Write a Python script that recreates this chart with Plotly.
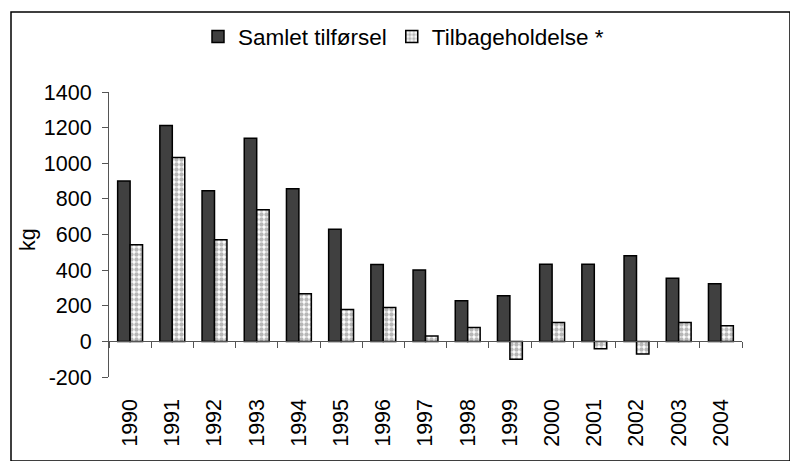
import plotly.graph_objects as go

years = ["1990", "1991", "1992", "1993", "1994", "1995", "1996", "1997",
         "1998", "1999", "2000", "2001", "2002", "2003", "2004"]
samlet_tilforsel = [900, 1212, 845, 1140, 857, 630, 432, 401, 228, 256, 433, 433, 481, 355, 323]
tilbageholdelse = [543, 1032, 571, 739, 267, 179, 190, 30, 78, -101, 106, -41, -71, 106, 88]
y_ticks = [-200, 0, 200, 400, 600, 800, 1000, 1200, 1400]
y_tick_labels = ["-200", "0", "200", "400", "600", "800", "1000", "1200", "1400"]

y_range = [y_ticks[0], y_ticks[-1]]
zero_pos = (0 - y_range[0]) / (y_range[1] - y_range[0])

font_family = "Liberation Sans, Arial, sans-serif"
axis_color = "#555555"

fig = go.Figure()

fig.add_trace(go.Bar(
    x=years,
    y=samlet_tilforsel,
    name="Samlet tilførsel",
    marker=dict(color="#404040", line=dict(color="black", width=1.5)),
))

fig.add_trace(go.Bar(
    x=years,
    y=tilbageholdelse,
    name="Tilbageholdelse *",
    marker=dict(
        color="white",
        pattern=dict(shape=".", fgcolor="#707070", bgcolor="white", size=5, solidity=0.6),
        line=dict(color="black", width=1.5),
    ),
))

fig.update_layout(
    width=790,
    height=461,
    paper_bgcolor="white",
    plot_bgcolor="white",
    barmode="group",
    bargap=0.41,
    bargroupgap=0,
    font=dict(family=font_family, color="black", size=21.5),
    margin=dict(l=109, r=48, t=92, b=84, autoexpand=False),
    showlegend=True,
    legend=dict(
        orientation="h",
        xanchor="left",
        x=0.1406,
        yanchor="middle",
        y=1.193,
        font=dict(size=22.5),
        bgcolor="rgba(0,0,0,0)",
        traceorder="normal",
    ),
    xaxis=dict(
        type="category",
        anchor="free",
        position=zero_pos,
        showline=True,
        linecolor=axis_color,
        linewidth=1,
        ticks="outside",
        tickson="boundaries",
        ticklen=6,
        tickcolor=axis_color,
        tickangle=-90,
        ticklabelstandoff=48,
        tickfont=dict(size=21.5),
        showgrid=False,
        zeroline=False,
    ),
    xaxis2=dict(
        overlaying="x",
        anchor="free",
        position=zero_pos,
        range=[-0.5, len(years) - 0.5],
        tick0=-0.5,
        dtick=1,
        ticks="inside",
        ticklen=6,
        tickcolor=axis_color,
        showticklabels=False,
        showline=False,
        showgrid=False,
        zeroline=False,
    ),
    yaxis=dict(
        range=y_range,
        tickmode="array",
        tickvals=y_ticks,
        ticktext=y_tick_labels,
        showline=True,
        linecolor=axis_color,
        linewidth=1,
        ticks="outside",
        ticklen=6,
        tickcolor=axis_color,
        ticklabelstandoff=6,
        tickfont=dict(size=21.5),
        showgrid=False,
        zeroline=False,
    ),
    yaxis2=dict(
        overlaying="y",
        anchor="x",
        range=y_range,
        tickmode="array",
        tickvals=y_ticks,
        ticks="inside",
        ticklen=6,
        tickcolor=axis_color,
        showticklabels=False,
        showline=False,
        showgrid=False,
        zeroline=False,
    ),
    annotations=[dict(
        text="kg",
        xref="paper", yref="paper",
        x=(28 - 109) / 633, y=(377 - 240) / 285,
        xanchor="center", yanchor="middle",
        textangle=-90,
        showarrow=False,
        font=dict(size=21.5),
    )],
    shapes=[dict(
        type="rect",
        xref="paper", yref="paper",
        x0=(11 - 109) / 633, x1=(790 - 109) / 633,
        y0=(377 - 461) / 285, y1=(377 - 12) / 285,
        line=dict(color="black", width=1.5),
        fillcolor="rgba(0,0,0,0)",
        layer="below",
    )],
)

# drop the default 8px body margin so the figure sits at the page origin
fig.write_html(
    "out.html",
    config={"displayModeBar": False},
    post_script="document.body.style.margin='0px';",
)
